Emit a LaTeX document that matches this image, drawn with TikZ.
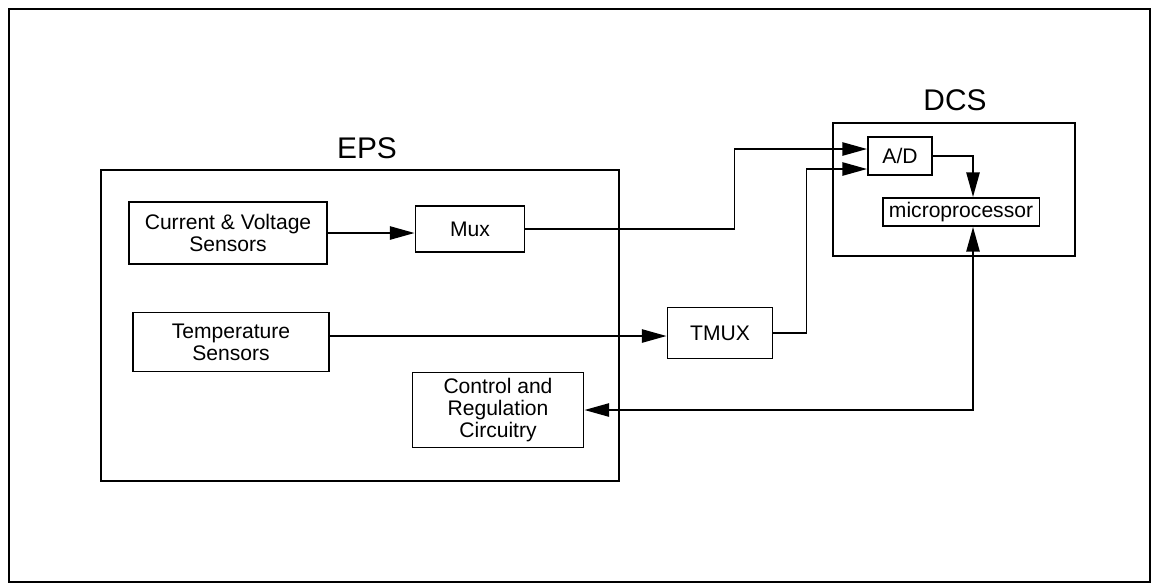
\documentclass[tikz,border=0pt]{standalone}
\usepackage{fontspec}
\setmainfont{Liberation Sans}
\usepackage{tikz}
\usetikzlibrary{arrows.meta}

\begin{document}
\begin{tikzpicture}[x=0.02cm, y=-0.02cm, line width=1.1pt,
  blk/.style={draw, rectangle, align=center, inner sep=0pt,
    font=\fontsize{12}{12.5}\selectfont},
  frame/.style={draw, rectangle, inner sep=0pt},
  title/.style={font=\fontsize{17}{20}\selectfont},
  >={Triangle[length=14pt, width=7.5pt]}]
  \useasboundingbox (0,0) rectangle (1151,586);
  \draw[line width=1.6pt] (9,9) rectangle (1150,582);

  % the two subsystems
  \node[frame, minimum width=10.36cm, minimum height=6.22cm] (eps) at (360,325.5) {};
  \node[title] (epstitle) at (367,148) {EPS};
  \node[frame, minimum width=4.84cm, minimum height=2.66cm] (dcs) at (954,189.5) {};
  \node[title] (dcstitle) at (955,100) {DCS};

  % EPS blocks
  \node[blk, minimum width=3.96cm, minimum height=1.24cm] (cvs) at (228,233) {Current \& Voltage\\Sensors};
  \node[blk, minimum width=2.18cm, minimum height=0.92cm] (mux) at (470,229) {Mux};
  \node[blk, minimum width=3.92cm, minimum height=1.18cm] (temp) at (231,342) {Temperature\\Sensors};
  \node[blk, minimum width=2.1cm, minimum height=1.02cm] (tmux) at (720,333) {TMUX};
  \node[blk, minimum width=3.42cm, minimum height=1.5cm] (ctrl) at (498,410) {Control and\\Regulation\\Circuitry};

  % DCS blocks
  \node[blk, minimum width=1.28cm, minimum height=0.76cm] (ad) at (900,156) {A/D};
  \node[blk, minimum width=3.14cm, minimum height=0.56cm] (mp) at (961,212) {microprocessor};
  \coordinate (tap) at (973,0);

  \draw[->] (cvs.east) -- (cvs.east -| mux.west);
  \draw[->] (mux.east) -- ++(209,0) |- ([yshift=0.14cm]ad.west);
  \draw (temp.east) ++(0,-6) coordinate (tout);
  \draw[->] (tout) -- (tout -| tmux.west);
  \draw[->] (tmux.east) -- ++(33,0) |- ([yshift=-0.26cm]ad.west);
  \draw[->] (ad.east) -| (tap |- mp.north);
  \draw[<->] (tap |- mp.south) |- (ctrl.east);
\end{tikzpicture}
\end{document}
